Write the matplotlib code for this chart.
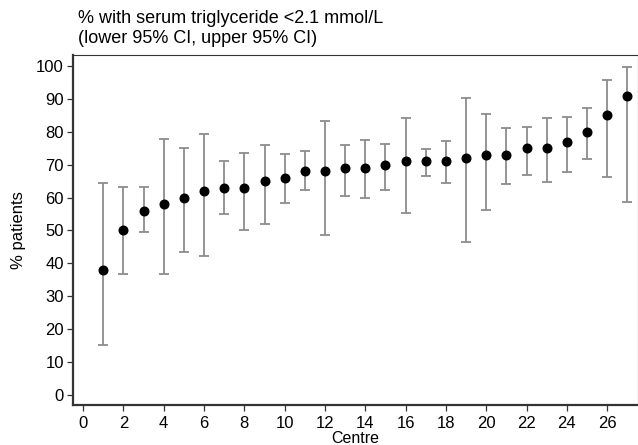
import matplotlib
matplotlib.use("Agg")
import matplotlib.pyplot as plt
import numpy as np

plt.rcParams['font.family'] = ['Liberation Sans', 'DejaVu Sans']

centre = list(range(1, 28))
pct = [38, 50, 56, 58, 60, 62, 63, 63, 65, 66, 68, 68, 69, 69, 70, 71, 71, 71,
       72, 73, 73, 75, 75, 77, 80, 85, 91]
lower = [15.1, 36.7, 49.4, 36.6, 43.3, 42.2, 54.9, 50.2, 52.1, 58.3, 62.4, 48.6,
         60.5, 60.0, 62.3, 55.3, 66.7, 64.3, 46.5, 56.1, 64.1, 66.9, 64.8, 67.7,
         71.7, 66.3, 58.7]
upper = [64.5, 63.2, 63.2, 77.9, 75.1, 79.3, 71.2, 73.6, 75.9, 73.3, 74.1, 83.3,
         76.1, 77.6, 76.4, 84.3, 74.9, 77.3, 90.3, 85.5, 81.1, 81.5, 84.1, 84.5,
         87.4, 95.8, 99.8]
xticks = list(range(0, 27, 2))
yticks = list(range(0, 101, 10))

fig = plt.figure(figsize=(6.38, 4.45), dpi=100)
ax = fig.add_axes([73/638, 1-404.5/445, (637.5-73)/638, (404.5-55)/445])

p = np.array(pct)
err = np.vstack([p - np.array(lower), np.array(upper) - p])
ax.errorbar(centre, pct, yerr=err, fmt='none', ecolor='#8c8c8c', elinewidth=1.3,
            capsize=3.8, capthick=1.3, zorder=2)
ax.plot(centre, pct, 'o', color='black', markersize=6.2, zorder=3)

ax.set_xlim(-0.5, 27.5)
ax.set_ylim(-3, 103.4)
ax.set_xticks(xticks)
ax.set_yticks(yticks)
ax.tick_params(axis='both', labelsize=12, width=0.9, color='#333333')
ax.tick_params(axis='x', length=4.5, pad=4)
ax.tick_params(axis='y', length=4, pad=2.5)
for s in ['left', 'bottom']:
    ax.spines[s].set_linewidth(1.6)
    ax.spines[s].set_color('#333333')
for s in ['top', 'right']:
    ax.spines[s].set_linewidth(0.8)
    ax.spines[s].set_color('#333333')

ax.set_xlabel('Centre', fontsize=11.5, labelpad=-0.5)
ax.set_ylabel('% patients', fontsize=12, labelpad=7)

fig.text(78/638, 1-10/445, '% with serum triglyceride <2.1 mmol/L\n(lower 95% CI, upper 95% CI)',
         ha='left', va='top', fontsize=13, linespacing=1.2)

fig.savefig('out.png', dpi=100)
